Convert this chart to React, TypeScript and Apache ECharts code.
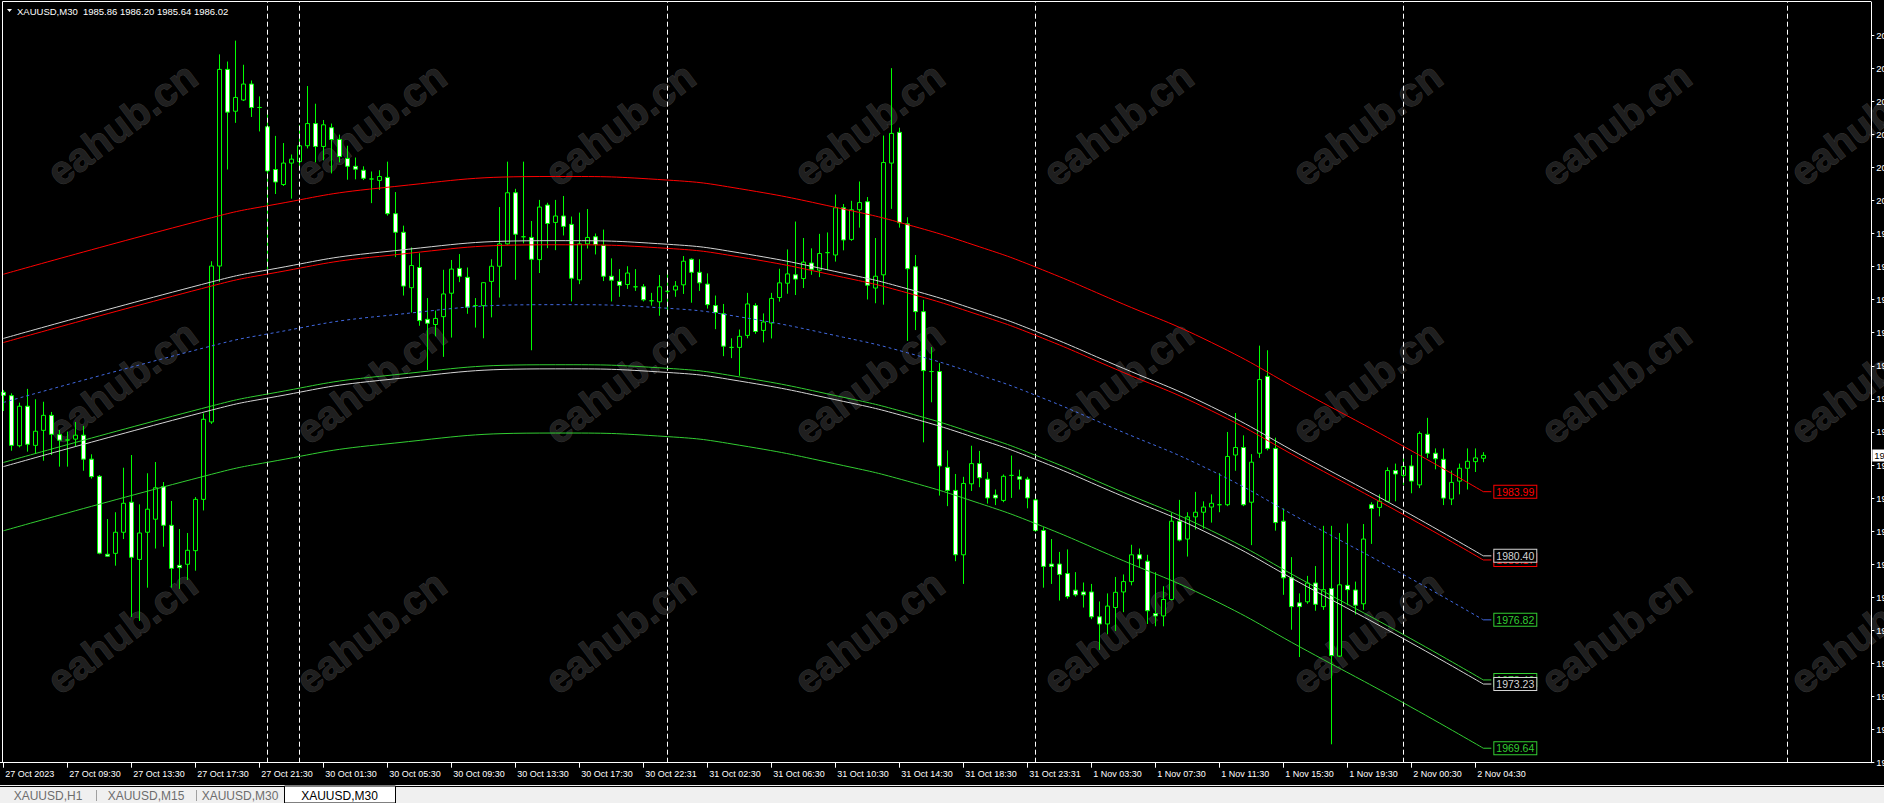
import React, { useEffect, useRef } from "react";
import * as echarts from "echarts";

// ---------- DATA ----------
const chartTitle = "XAUUSD,M30";
const lastBarOHLC = ["1985.86", "1986.20", "1985.64", "1986.02"];

const opens = [
  1989.55, 1989.36, 1986.56, 1988.77, 1986.58, 1987.42, 1988.26, 1987.18, 1986.88, 1986.93,
  1987.15, 1985.81, 1984.85, 1980.49, 1980.54, 1981.72, 1983.40, 1980.20, 1981.72, 1982.45,
  1984.27, 1982.11, 1979.87, 1979.93, 1980.69, 1983.56, 1987.89, 1996.61, 2007.61, 2005.27,
  2005.90, 2006.79, 2005.48, 2004.40, 2002.01, 2001.17, 2002.37, 2002.45, 2003.34, 2004.58,
  2003.30, 2004.35, 2003.69, 2002.63, 2002.19, 2001.97, 2001.48, 2001.40, 2001.57, 1999.54,
  1998.50, 1995.40, 1996.53, 1993.63, 1993.34, 1993.78, 1995.09, 1996.48, 1995.98, 1994.40,
  1994.40, 1995.75, 1996.60, 1997.85, 2000.71, 1998.25, 1998.21, 1996.97, 2000.02, 1999.05,
  1999.41, 1998.94, 1995.84, 1997.85, 1998.25, 1997.77, 1996.04, 1995.75, 1995.58, 1995.45,
  1995.45, 1994.67, 1994.61, 1995.20, 1995.27, 1995.56, 1996.99, 1996.26, 1995.60, 1994.40,
  1993.94, 1992.06, 1992.06, 1992.73, 1994.40, 1993.01, 1993.42, 1994.85, 1995.65, 1996.12,
  1995.91, 1996.78, 1996.38, 1997.36, 1997.23, 1999.87, 1998.10, 1999.76, 2000.21, 1995.38,
  1996.12, 2002.37, 2004.09, 1998.97, 1996.57, 1994.06, 1990.71, 1990.71, 1985.35, 1984.06,
  1980.46, 1984.43, 1985.56, 1984.69, 1983.80, 1983.50, 1984.90, 1984.82, 1984.69, 1983.53,
  1981.82, 1979.94, 1979.94, 1979.41, 1978.48, 1978.38, 1978.38, 1976.99, 1976.59, 1977.51,
  1978.38, 1978.96, 1980.46, 1980.10, 1977.17, 1977.04, 1977.96, 1982.34, 1981.34, 1982.58,
  1982.84, 1983.13, 1983.26, 1983.26, 1986.04, 1986.46, 1983.40, 1986.14, 1990.44, 1986.41,
  1982.34, 1979.17, 1977.77, 1977.83, 1978.88, 1977.56, 1978.57, 1974.79, 1978.75, 1978.49,
  1977.72, 1983.26, 1983.11, 1983.45, 1985.17, 1984.90, 1985.43, 1984.37, 1987.20, 1986.14,
  1985.80, 1983.58, 1984.58, 1985.30, 1985.67, 1985.86,
];
const closes = [
  1989.38, 1986.58, 1988.77, 1986.64, 1987.37, 1988.26, 1987.20, 1986.87, 1986.88, 1987.15,
  1985.81, 1984.83, 1980.55, 1980.38, 1981.72, 1983.34, 1980.32, 1981.68, 1983.01, 1984.21,
  1982.11, 1979.70, 1979.74, 1980.71, 1983.56, 1988.04, 1996.61, 2007.61, 2005.22, 2006.04,
  2006.79, 2005.48, 2005.48, 2001.93, 2001.31, 2002.37, 2002.59, 2003.34, 2004.58, 2003.30,
  2004.51, 2003.69, 2002.74, 2002.19, 2002.03, 2001.52, 2001.48, 2001.62, 1999.54, 1998.50,
  1995.49, 1996.64, 1993.56, 1993.41, 1993.68, 1995.05, 1996.44, 1996.04, 1994.31, 1994.40,
  1995.68, 1996.60, 1997.85, 2000.71, 1998.39, 1998.25, 1996.99, 1999.91, 1998.99, 1999.41,
  1998.83, 1995.93, 1997.85, 1998.21, 1997.81, 1996.04, 1995.82, 1995.53, 1996.22, 1995.45,
  1994.72, 1994.67, 1995.45, 1995.20, 1995.49, 1996.88, 1996.26, 1995.67, 1994.45, 1994.01,
  1992.13, 1992.06, 1992.68, 1994.49, 1992.95, 1993.48, 1994.80, 1995.67, 1996.17, 1995.88,
  1996.83, 1996.43, 1997.31, 1997.36, 1999.87, 1998.07, 1999.76, 2000.16, 1995.54, 1996.04,
  2002.40, 2004.03, 1999.03, 1996.46, 1994.06, 1990.76, 1990.71, 1985.43, 1984.06, 1980.46,
  1984.45, 1985.56, 1984.77, 1983.64, 1983.64, 1984.85, 1984.90, 1984.69, 1983.64, 1981.82,
  1979.81, 1979.81, 1979.36, 1978.12, 1978.22, 1978.22, 1976.99, 1976.59, 1977.59, 1978.36,
  1978.96, 1980.46, 1980.23, 1977.33, 1977.04, 1977.96, 1982.34, 1981.28, 1982.58, 1982.84,
  1983.13, 1983.34, 1983.26, 1985.96, 1986.46, 1983.26, 1985.64, 1990.26, 1986.41, 1982.26,
  1979.17, 1977.56, 1977.56, 1978.88, 1977.69, 1978.51, 1974.82, 1978.78, 1978.51, 1977.64,
  1981.34, 1983.05, 1983.45, 1985.17, 1984.98, 1985.40, 1984.58, 1987.25, 1986.14, 1985.83,
  1983.63, 1984.51, 1985.30, 1985.69, 1985.88, 1986.02,
];
const highs = [
  1989.68, 1989.49, 1988.97, 1989.74, 1989.16, 1989.02, 1988.45, 1987.44, 1987.35, 1987.89,
  1987.67, 1986.08, 1984.92, 1982.46, 1982.84, 1985.33, 1986.04, 1983.28, 1985.02, 1985.65,
  1984.53, 1983.47, 1981.90, 1981.68, 1983.69, 1988.37, 1996.88, 2008.45, 2008.05, 2009.22,
  2007.87, 2006.99, 2006.10, 2005.18, 2003.89, 2003.49, 2002.85, 2004.51, 2006.68, 2005.69,
  2004.78, 2004.58, 2003.96, 2003.34, 2002.68, 2002.19, 2001.90, 2001.97, 2002.45, 2000.75,
  1998.87, 1997.65, 1997.33, 1994.82, 1994.12, 1996.40, 1996.95, 1997.28, 1996.53, 1994.82,
  1995.71, 1996.99, 1999.91, 2002.45, 2000.93, 2002.45, 1999.13, 2000.31, 2000.15, 2000.31,
  2000.53, 1999.38, 1999.60, 1999.80, 1998.43, 1998.65, 1997.04, 1996.44, 1996.60, 1996.44,
  1995.60, 1995.11, 1996.11, 1996.22, 1995.77, 1997.17, 1997.04, 1996.99, 1996.20, 1994.96,
  1994.49, 1992.57, 1993.06, 1995.11, 1994.53, 1993.96, 1995.11, 1996.46, 1997.54, 1999.10,
  1998.18, 1997.60, 1998.41, 1998.49, 2000.61, 2000.08, 2000.26, 2001.34, 2000.47, 1998.18,
  2003.91, 2007.68, 2004.35, 1999.34, 1997.23, 1994.72, 1992.08, 1991.18, 1986.30, 1984.98,
  1984.82, 1986.56, 1986.27, 1985.09, 1984.11, 1984.95, 1986.01, 1985.22, 1984.82, 1983.85,
  1982.00, 1981.34, 1980.62, 1980.76, 1979.49, 1978.91, 1978.83, 1977.85, 1978.30, 1979.22,
  1979.36, 1981.02, 1980.81, 1980.46, 1979.49, 1978.70, 1982.79, 1983.53, 1982.84, 1983.98,
  1983.45, 1983.84, 1985.03, 1987.33, 1988.39, 1987.14, 1986.09, 1992.16, 1991.90, 1987.01,
  1983.05, 1980.33, 1978.30, 1979.28, 1979.83, 1982.08, 1982.08, 1981.68, 1982.21, 1978.96,
  1982.18, 1983.40, 1983.84, 1985.35, 1985.56, 1985.96, 1986.04, 1987.36, 1988.12, 1986.41,
  1986.41, 1985.17, 1985.56, 1986.41, 1986.41, 1986.20,
];
const lows = [
  1988.50, 1986.28, 1986.47, 1986.23, 1986.10, 1985.72, 1986.04, 1985.39, 1985.39, 1986.51,
  1985.16, 1984.72, 1980.49, 1980.35, 1979.85, 1981.34, 1976.98, 1976.76, 1978.62, 1980.81,
  1980.91, 1978.62, 1978.55, 1979.05, 1979.57, 1982.94, 1987.78, 1995.73, 2002.01, 2004.62,
  2005.84, 2004.95, 2004.14, 1996.45, 2000.64, 2001.09, 2000.38, 2002.08, 2003.19, 2002.41,
  2002.52, 2001.79, 2002.41, 2001.44, 2001.46, 2001.42, 2000.13, 2000.87, 1999.43, 1997.11,
  1994.96, 1994.01, 1993.27, 1990.80, 1992.68, 1991.53, 1992.61, 1995.71, 1993.94, 1993.17,
  1992.57, 1993.74, 1994.85, 1997.81, 1995.84, 1997.88, 1991.90, 1996.22, 1997.61, 1997.50,
  1998.32, 1994.63, 1995.60, 1997.59, 1997.26, 1995.77, 1994.63, 1994.89, 1995.33, 1995.22,
  1994.63, 1994.40, 1993.83, 1994.12, 1994.89, 1995.05, 1994.56, 1995.22, 1994.23, 1993.08,
  1991.57, 1991.46, 1990.47, 1992.57, 1992.82, 1992.34, 1992.56, 1994.62, 1995.06, 1994.99,
  1995.38, 1996.12, 1995.99, 1996.38, 1996.86, 1997.49, 1998.02, 1998.76, 1994.74, 1994.53,
  1994.45, 1999.81, 1998.76, 1992.42, 1993.03, 1986.75, 1988.99, 1983.77, 1983.18, 1980.10,
  1978.83, 1984.03, 1984.24, 1983.32, 1983.24, 1983.40, 1983.64, 1984.11, 1983.06, 1981.74,
  1978.62, 1978.83, 1977.90, 1978.00, 1978.12, 1977.51, 1976.86, 1975.14, 1976.01, 1976.20,
  1977.25, 1978.75, 1979.75, 1976.59, 1976.46, 1976.46, 1977.91, 1981.21, 1980.36, 1981.87,
  1981.92, 1982.26, 1982.84, 1983.18, 1985.16, 1983.18, 1981.00, 1985.88, 1986.30, 1981.81,
  1978.22, 1976.27, 1974.74, 1977.72, 1977.33, 1977.38, 1969.86, 1974.74, 1977.64, 1977.12,
  1977.38, 1981.07, 1982.61, 1983.40, 1983.45, 1984.37, 1983.90, 1984.19, 1985.88, 1985.24,
  1983.24, 1983.24, 1983.84, 1984.11, 1985.09, 1985.64,
];

// x axis: 234 bar slots (186 with data, the rest is empty right margin)
const slotCount = 234;
const xTickBars = [0, 8, 16, 24, 32, 40, 48, 56, 64, 72, 80, 88, 96, 104, 112, 120, 128, 136, 144, 152, 160, 168, 176, 184];
const xTickLabels = [
  "27 Oct 2023", "27 Oct 09:30", "27 Oct 13:30", "27 Oct 17:30", "27 Oct 21:30", "30 Oct 01:30",
  "30 Oct 05:30", "30 Oct 09:30", "30 Oct 13:30", "30 Oct 17:30", "30 Oct 22:31", "31 Oct 02:30",
  "31 Oct 06:30", "31 Oct 10:30", "31 Oct 14:30", "31 Oct 18:30", "31 Oct 23:31", "1 Nov 03:30",
  "1 Nov 07:30", "1 Nov 11:30", "1 Nov 15:30", "1 Nov 19:30", "2 Nov 00:30", "2 Nov 04:30",
];
const separatorBars = [33, 37, 83, 129, 175, 223];

// y axis
const yMin = 1968.83;
const yMax = 2011.38;
const yTickValues = [
  1968.83, 1970.68, 1972.53, 1974.38, 1976.23, 1978.08, 1979.93, 1981.78, 1983.63, 1985.48,
  1987.33, 1989.18, 1991.03, 1992.88, 1994.73, 1996.58, 1998.43, 2000.28, 2002.13, 2003.98,
  2005.83, 2007.68, 2009.53,
];
const bidPrice = 1986.02;

// regression channel: centre line read at these bars, plus the line offsets
const channelBars = [0, 26, 33, 47, 69, 83, 92, 105, 113, 122, 129, 139, 151, 163, 175, 185];
const channelCenter = [
  1988.98, 1992.14, 1992.81, 1993.80, 1994.45, 1994.25, 1993.77, 1992.63, 1991.76, 1990.52,
  1989.39, 1987.50, 1985.17, 1982.26, 1979.36, 1976.82,
];
const channelNames = ["outerLow", "whiteLow", "innerLow", "center", "innerUp", "whiteUp", "outerUp"];
const channelOffsets = [-7.18, -3.59, -3.36, 0, 3.35, 3.58, 7.17];

const tabLabels = ["XAUUSD,H1", "XAUUSD,M15", "XAUUSD,M30", "XAUUSD,M30"];

// ---------- STYLE ----------
const FONT = "Liberation Sans, Arial, sans-serif";
const CANDLE = "#00ff00";
const lineColors: Record<string, string> = {
  outerUp: "#ff0000",
  innerUp: "#ff0000",
  whiteUp: "#d4d4d4",
  center: "#4169e1",
  whiteLow: "#d4d4d4",
  innerLow: "#32cd32",
  outerLow: "#32cd32",
};
const labelColors: Record<string, string> = {
  outerUp: "#ff0000",
  innerUp: "#ff0000",
  whiteUp: "#d4d4d4",
  center: "#32cd32",
  whiteLow: "#d4d4d4",
  innerLow: "#32cd32",
  outerLow: "#32cd32",
};
const wmX = [122, 371, 620, 869, 1118, 1367, 1616, 1865];
const wmY = [124, 382, 632];

export default function App() {
  const ref = useRef<HTMLDivElement>(null);

  useEffect(() => {
    if (!ref.current) return;
    const chart = echarts.init(ref.current, undefined, { renderer: "svg" });

    const slots = Array.from({ length: slotCount }, (_, i) => "b" + i);
    const tickSet = new Set(xTickBars);
    const labelMap: Record<number, string> = {};
    xTickBars.forEach((b, k) => (labelMap[b] = xTickLabels[k]));
    const tickFn = (index: number) => tickSet.has(index);

    const candleData = opens.map((o, i) => [o, closes[i], lows[i], highs[i]]);
    const lastBar = opens.length - 1;

    // draw order: white lines above the coloured inner ones
    const order = ["outerLow", "innerLow", "whiteLow", "center", "innerUp", "whiteUp", "outerUp"];

    const lineSeries: any[] = [];
    const connectorSeries: any[] = [];
    order.forEach((name, k) => {
      const idx = channelNames.indexOf(name);
      const off = channelOffsets[idx];
      const color = lineColors[name];
      const dashed = name === "center";
      const pts = channelBars.map((b, j) => [b, +(channelCenter[j] + off).toFixed(2)]);
      const endVal = pts[pts.length - 1][1] as number;
      lineSeries.push({
        type: "line",
        name,
        data: pts,
        smooth: 0.5,
        symbol: "none",
        silent: true,
        z: 5 + k,
        lineStyle: { color, width: 1, type: dashed ? [3, 3] : "solid" },
      });
      connectorSeries.push({
        type: "line",
        name: name + "-label",
        data: [
          [lastBar, endVal],
          [lastBar + 1, endVal],
        ],
        symbol: "none",
        silent: true,
        z: 20 + k,
        lineStyle: { color, width: 1 },
        endLabel: {
          show: true,
          formatter: () => endVal.toFixed(2),
          color: labelColors[name],
          backgroundColor: "#000",
          borderColor: labelColors[name],
          borderWidth: 1,
          padding: [1, 2, 0, 2],
          fontSize: 10.5,
          lineHeight: 11,
          fontFamily: FONT,
          distance: 3,
        },
      });
    });

    const graphics: any[] = [];
    wmY.forEach((y) =>
      wmX.forEach((x) =>
        graphics.push({
          type: "text",
          x,
          y,
          rotation: (37 * Math.PI) / 180,
          z: 0,
          silent: true,
          style: {
            text: "eahub.cn",
            fill: "#1f1f1f",
            stroke: "#363636",
            lineWidth: 1,
            fontSize: 40,
            fontWeight: "bold",
            fontFamily: FONT,
            align: "center",
            verticalAlign: "middle",
            textAlign: "center",
            textVerticalAlign: "middle",
          },
        })
      )
    );
    // frame (left / top)
    graphics.push({ type: "line", z: 30, silent: true, shape: { x1: 2.5, y1: 1.5, x2: 2.5, y2: 763 }, style: { stroke: "#fff", lineWidth: 1 } });
    graphics.push({ type: "line", z: 30, silent: true, shape: { x1: 2.5, y1: 1.5, x2: 1871, y2: 1.5 }, style: { stroke: "#fff", lineWidth: 1 } });
    // title
    graphics.push({ type: "polygon", z: 30, silent: true, shape: { points: [[7, 9], [12, 9], [9.5, 12]] }, style: { fill: "#fff" } });
    graphics.push({
      type: "text",
      x: 17,
      y: 11,
      z: 30,
      silent: true,
      style: {
        text: chartTitle + "  " + lastBarOHLC.join(" "),
        fill: "#fff",
        fontSize: 9.5,
        fontFamily: FONT,
        verticalAlign: "middle",
        textVerticalAlign: "middle",
      },
    });
    // tab strip
    graphics.push({ type: "rect", z: 40, silent: true, shape: { x: 0, y: 785, width: 1884, height: 18 }, style: { fill: "#f0f0f0" } });
    graphics.push({ type: "line", z: 41, silent: true, shape: { x1: 0, y1: 786.5, x2: 1884, y2: 786.5 }, style: { stroke: "#000", lineWidth: 1 } });
    const tabX = [0, 96, 196, 284];
    const tabW = [96, 100, 88, 111];
    tabLabels.forEach((t, k) => {
      const active = k === tabLabels.length - 1;
      if (active) {
        graphics.push({ type: "rect", z: 42, silent: true, shape: { x: tabX[k] + 0.5, y: 786, width: tabW[k], height: 17 }, style: { fill: "#fff", stroke: "#000", lineWidth: 1 } });
      } else if (k > 0) {
        graphics.push({ type: "line", z: 42, silent: true, shape: { x1: tabX[k] + 0.5, y1: 790, x2: tabX[k] + 0.5, y2: 801 }, style: { stroke: "#a0a0a0", lineWidth: 1 } });
      }
      graphics.push({
        type: "text",
        x: tabX[k] + tabW[k] / 2,
        y: 796,
        z: 43,
        silent: true,
        style: {
          text: t,
          fill: active ? "#000" : "#6d6d6d",
          fontSize: 12,
          fontFamily: FONT,
          align: "center",
          verticalAlign: "middle",
          textAlign: "center",
          textVerticalAlign: "middle",
        },
      });
    });

    chart.setOption({
      animation: false,
      backgroundColor: "#000",
      grid: { left: -0.67, right: 12.67, top: 2, bottom: 40.3, containLabel: false, outerBoundsMode: "none" },
      xAxis: {
        type: "category",
        data: slots,
        boundaryGap: true,
        axisLine: { show: true, lineStyle: { color: "#fff", width: 1 } },
        axisTick: { show: true, interval: tickFn, alignWithLabel: true, length: 5, lineStyle: { color: "#fff" } },
        axisLabel: {
          interval: tickFn,
          formatter: (_v: string, i: number) => labelMap[i] ?? "",
          color: "#fff",
          fontSize: 9,
          fontFamily: FONT,
          align: "left",
          margin: 7,
          padding: [0, 0, 0, 2],
        },
        splitLine: { show: false },
      },
      yAxis: {
        type: "value",
        position: "right",
        min: yMin,
        max: yMax,
        scale: true,
        axisLine: { show: true, lineStyle: { color: "#fff", width: 1 } },
        axisTick: { show: true, length: 3, lineStyle: { color: "#fff" }, customValues: yTickValues },
        axisLabel: {
          customValues: yTickValues,
          formatter: (v: number) => v.toFixed(2),
          color: "#fff",
          fontSize: 9.5,
          fontFamily: FONT,
          margin: 5,
        },
        splitLine: { show: false },
      },
      graphic: { elements: graphics },
      series: [
        {
          type: "candlestick",
          data: candleData,
          barWidth: 5,
          z: 3,
          silent: true,
          itemStyle: {
            color: "#000",
            color0: "#fff",
            borderColor: CANDLE,
            borderColor0: CANDLE,
            borderWidth: 1,
          },
          markLine: {
            silent: true,
            symbol: ["none", "none"],
            precision: 2,
            data: separatorBars.map((b) => ({
              xAxis: b,
              lineStyle: { color: "#fff", width: 1, type: [5, 3] },
              label: { show: false },
            })),
          },
        },
        {
          type: "line",
          name: "bid",
          data: [],
          silent: true,
          z: 40,
          markLine: {
            silent: true,
            symbol: ["none", "none"],
            precision: 2,
            lineStyle: { color: "rgba(0,0,0,0)", width: 1, opacity: 1 },
            label: {
              show: true,
              position: "end",
              formatter: () => bidPrice.toFixed(2),
              backgroundColor: "#fff",
              color: "#000",
              opacity: 1,
              padding: [1, 3, 1, 2],
              fontSize: 9.5,
              fontFamily: FONT,
              distance: 1,
            },
            data: [{ yAxis: bidPrice }],
          },
        },
        ...lineSeries,
        ...connectorSeries,
      ],
    });

    return () => chart.dispose();
  }, []);

  return (
    <div style={{ position: "fixed", left: 0, top: 0, width: 1884, height: 803, background: "#000" }}>
      <div ref={ref} style={{ width: 1884, height: 803 }} />
    </div>
  );
}
